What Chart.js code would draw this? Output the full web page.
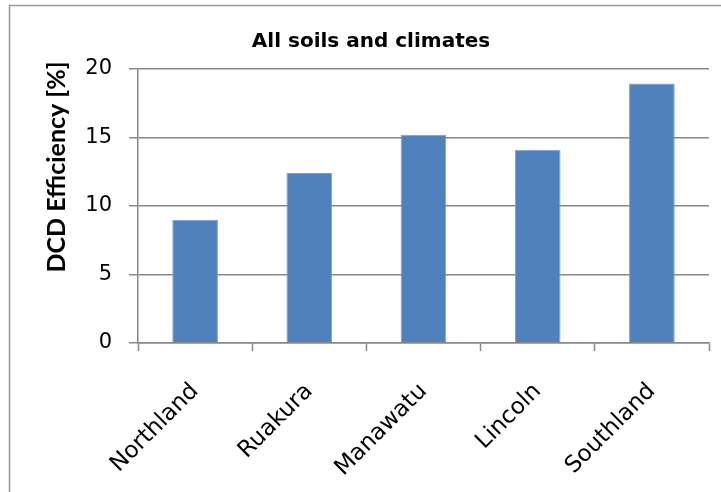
<!DOCTYPE html>
<html>
<head>
<meta charset="utf-8">
<script src="https://cdn.jsdelivr.net/npm/chart.js@4.4.1/dist/chart.umd.min.js"></script>
<style>
  html, body { margin: 0; padding: 0; background: #fff; }
  #wrap { width: 721px; height: 492px; }
</style>
</head>
<body>
<div id="wrap"><canvas id="chartDCD" width="721" height="492"></canvas></div>
<script>
const sites = ["Northland", "Ruakura", "Manawatu", "Lincoln", "Southland"];
const efficiency = [9.0, 12.4, 15.2, 14.1, 18.95];
const yTicks = [0, 5, 10, 15, 20];

const chartTitle = "All soils and climates";
const yTitle = "DCD Efficiency [%]";

const gridGrey = "#888888";

// frame + titles drawn by hand so they sit where the layout wants them
const decorations = {
  id: "decorations",
  beforeDraw(chart) {
    const ctx = chart.ctx;
    ctx.save();
    ctx.fillStyle = "#fff";
    ctx.fillRect(0, 0, chart.width, chart.height);
    ctx.strokeStyle = "#9a9a9a";
    ctx.lineWidth = 1.5;
    ctx.strokeRect(9.5, 5.5, 800, 600);
    ctx.restore();
  },
  afterDraw(chart) {
    const ctx = chart.ctx;
    ctx.save();
    ctx.fillStyle = "#000";
    ctx.font = "bold 20px 'DejaVu Sans'";
    ctx.textAlign = "center";
    ctx.textBaseline = "alphabetic";
    ctx.fillText(chartTitle, 371, 47);

    ctx.translate(57, 167);
    ctx.rotate(-Math.PI / 2);
    ctx.font = "bold 25px Lato";
    ctx.textBaseline = "middle";
    ctx.fillText(yTitle, 0, 0);
    ctx.restore();
  }
};

const data = {
  labels: sites,
  datasets: [{
    label: yTitle,
    data: efficiency,
    backgroundColor: "#4F81BD",
    borderColor: "#7a9fcf",
    borderWidth: 1,
    barPercentage: 0.8,
    categoryPercentage: 0.5
  }]
};

const config = {
  type: "bar",
  data: data,
  options: {
    responsive: false,
    animation: false,
    layout: { padding: { top: 69, right: 12, left: 0, bottom: 0 } },
    plugins: {
      legend: { display: false },
      tooltip: { enabled: false }
    },
    scales: {
      x: {
        offset: true,
        grid: {
          offset: true,
          drawOnChartArea: false,
          color: gridGrey,
          tickLength: 8,
          tickWidth: 1.5
        },
        border: { color: gridGrey, width: 1.5 },
        ticks: {
          autoSkip: false,
          maxRotation: 45,
          minRotation: 45,
          padding: 27,
          color: "#000",
          font: { family: "'DejaVu Sans'", size: 23 }
        },
        afterFit(scale) { scale.height = 149; }
      },
      y: {
        min: 0,
        max: 20,
        afterBuildTicks(scale) { scale.ticks = yTicks.map(v => ({ value: v })); },
        grid: { color: gridGrey, lineWidth: 1.5, tickLength: 9 },
        border: { color: gridGrey, width: 1.5 },
        ticks: {
          padding: 17,
          color: "#000",
          font: { family: "'DejaVu Sans'", size: 21 }
        },
        afterFit(scale) { scale.width = 138; }
      }
    }
  },
  plugins: [decorations]
};

const dcdChart = new Chart(document.getElementById("chartDCD"), config);
</script>
</body>
</html>
